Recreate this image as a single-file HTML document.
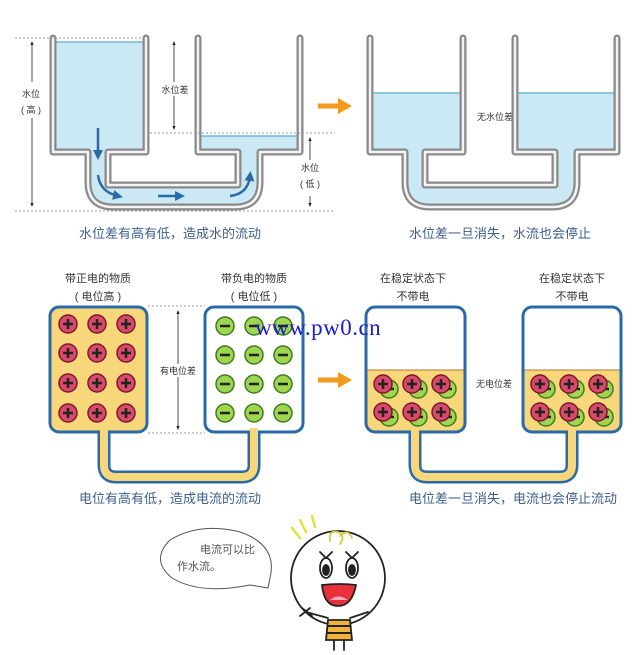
<!DOCTYPE html>
<html><head><meta charset="utf-8"><style>
body{margin:0;background:#fff}
svg{display:block}
text{font-family:"Liberation Sans","Noto Sans CJK SC",sans-serif}
</style></head><body>
<svg width="640" height="655" viewBox="0 0 640 655" xmlns="http://www.w3.org/2000/svg">
<defs>
<marker id="ah" viewBox="0 0 10 10" refX="5" refY="5" markerWidth="5" markerHeight="6" orient="auto-start-reverse"><path d="M0,1 L10,5 L0,9 z" fill="#222"/></marker>
<marker id="bh" viewBox="0 0 10 10" refX="5" refY="5" markerWidth="4" markerHeight="4" orient="auto"><path d="M0,0 L10,5 L0,10 z" fill="#2a6aa8"/></marker>
<g id="vessel">
 <path d="M146,38 V152 H108 V185 H238 V152 H198 V38" fill="none" stroke="#8a8a8a" stroke-width="7" stroke-linejoin="round" stroke-linecap="round"/>
 <path d="M53,38 V152 H88 V182 Q88,207 113,207 H235 Q260,207 260,182 V152 H300 V38" fill="none" stroke="#8a8a8a" stroke-width="7" stroke-linejoin="round" stroke-linecap="round"/>
 <path d="M146,38 V152 H108 V185 H238 V152 H198 V38" fill="none" stroke="#f4f4f4" stroke-width="2.5" stroke-linejoin="round" stroke-linecap="round"/>
 <path d="M53,38 V152 H88 V182 Q88,207 113,207 H235 Q260,207 260,182 V152 H300 V38" fill="none" stroke="#f4f4f4" stroke-width="2.5" stroke-linejoin="round" stroke-linecap="round"/>
</g>
<g id="plus"><circle r="9" fill="#d84a6a" stroke="#7a1830" stroke-width="1.5"/><path d="M-5,0H5M0,-5V5" stroke="#222" stroke-width="2.5"/></g>
<g id="minus"><circle r="9" fill="#9ed650" stroke="#3f7a20" stroke-width="1.5"/><path d="M-5,0H5" stroke="#222" stroke-width="2.5"/></g>
<g id="pair"><g transform="translate(6,5)"><use href="#minus"/></g><use href="#plus"/></g>
</defs>

<path d="M53,42 H146 V152 H108 V185 H238 V152 H198 V136 H300 V152 H260 V182 Q260,207 235,207 H113 Q88,207 88,182 V152 H53 Z" fill="#cbe9f5"/>
<line x1="53" y1="42" x2="146" y2="42" stroke="#6fb7d4" stroke-width="1.5"/>
<line x1="198" y1="136" x2="300" y2="136" stroke="#6fb7d4" stroke-width="1.5"/>
<use href="#vessel"/>
<path d="M98,128 V155" stroke="#2a6aa8" stroke-width="2.5" marker-end="url(#bh)"/>
<path d="M98,175 Q100,192 118,196" fill="none" stroke="#2a6aa8" stroke-width="2.5" marker-end="url(#bh)"/>
<path d="M158,196 H180" stroke="#2a6aa8" stroke-width="2.5" marker-end="url(#bh)"/>
<path d="M230,196 Q248,194 250,176" fill="none" stroke="#2a6aa8" stroke-width="2.5" marker-end="url(#bh)"/>
<g stroke="#999" stroke-dasharray="2,2" stroke-width="1">
<line x1="15" y1="38" x2="150" y2="38"/><line x1="150" y1="133" x2="335" y2="133"/><line x1="15" y1="211" x2="335" y2="211"/>
</g>
<g stroke="#222" stroke-width="0.8" fill="none">
<line x1="32" y1="43" x2="32" y2="205" marker-start="url(#ah)" marker-end="url(#ah)"/>
<line x1="174" y1="43" x2="174" y2="128" marker-start="url(#ah)" marker-end="url(#ah)"/>
<line x1="310" y1="139" x2="310" y2="205" marker-start="url(#ah)" marker-end="url(#ah)"/>
</g>
<rect x="20" y="82" width="24" height="36" fill="#fff"/>
<text x="31" y="97" font-size="9" text-anchor="middle" fill="#333">水位</text>
<text x="31" y="113" font-size="9" text-anchor="middle" fill="#333">( 高 )</text>
<rect x="160" y="82" width="30" height="14" fill="#fff"/>
<text x="175" y="93" font-size="9" text-anchor="middle" fill="#333">水位差</text>
<rect x="298" y="160" width="24" height="36" fill="#fff"/>
<text x="310" y="171" font-size="9" text-anchor="middle" fill="#333">水位</text>
<text x="310" y="187" font-size="9" text-anchor="middle" fill="#333">( 低 )</text>
<text x="170" y="238" font-size="13" text-anchor="middle" fill="#3b5f8c">水位差有高有低，造成水的流动</text>

<path d="M318,106 H340" stroke="#f39a1e" stroke-width="5"/><path d="M338,98 L352,106 L338,114 Z" fill="#f39a1e"/>
<path d="M318,380 H340" stroke="#f39a1e" stroke-width="5"/><path d="M338,372 L352,380 L338,388 Z" fill="#f39a1e"/>

<g transform="translate(317,0)">
<path d="M53,93 H146 V152 H108 V185 H238 V152 H198 V93 H300 V152 H260 V182 Q260,207 235,207 H113 Q88,207 88,182 V152 H53 Z" fill="#cbe9f5"/>
<line x1="53" y1="93" x2="146" y2="93" stroke="#6fb7d4" stroke-width="1.5"/>
<line x1="198" y1="93" x2="300" y2="93" stroke="#6fb7d4" stroke-width="1.5"/>
<use href="#vessel"/>
<text x="178" y="120" font-size="9" text-anchor="middle" fill="#333">无水位差</text>
</g>
<text x="500" y="238" font-size="13" text-anchor="middle" fill="#3b5f8c">水位差一旦消失，水流也会停止</text>

<g fill="none" stroke-linejoin="round">
<path d="M104,430 V465 Q104,477 116,477 H242 Q254,477 254,465 V430" stroke="#2a6aa8" stroke-width="13"/>
<path d="M104,428 V465 Q104,477 116,477 H242 Q254,477 254,465 V428" stroke="#f8d77a" stroke-width="8"/>
</g>
<rect x="50" y="307" width="97" height="125" rx="9" fill="#f8d77a" stroke="#2a6aa8" stroke-width="3"/>
<rect x="205" y="307" width="98" height="125" rx="9" fill="#fff" stroke="#2a6aa8" stroke-width="3"/>
<rect x="100" y="428" width="8" height="6" fill="#f8d77a"/><rect x="250" y="428" width="8" height="6" fill="#f8d77a"/>
<g>
<use href="#plus" x="68" y="324"/><use href="#plus" x="97" y="324"/><use href="#plus" x="126" y="324"/>
<use href="#plus" x="68" y="353"/><use href="#plus" x="97" y="353"/><use href="#plus" x="126" y="353"/>
<use href="#plus" x="68" y="383"/><use href="#plus" x="97" y="383"/><use href="#plus" x="126" y="383"/>
<use href="#plus" x="68" y="413"/><use href="#plus" x="97" y="413"/><use href="#plus" x="126" y="413"/>
<use href="#minus" x="225" y="326"/><use href="#minus" x="254" y="326"/><use href="#minus" x="283" y="326"/>
<use href="#minus" x="225" y="355"/><use href="#minus" x="254" y="355"/><use href="#minus" x="283" y="355"/>
<use href="#minus" x="225" y="384"/><use href="#minus" x="254" y="384"/><use href="#minus" x="283" y="384"/>
<use href="#minus" x="225" y="413"/><use href="#minus" x="254" y="413"/><use href="#minus" x="283" y="413"/>
</g>
<g stroke="#999" stroke-dasharray="2,2" stroke-width="1"><line x1="148" y1="306" x2="205" y2="306"/><line x1="148" y1="433" x2="205" y2="433"/></g>
<line x1="178" y1="312" x2="178" y2="428" stroke="#222" stroke-width="0.8" marker-start="url(#ah)" marker-end="url(#ah)"/>
<rect x="158" y="364" width="40" height="13" fill="#fff"/>
<text x="178" y="374" font-size="9" text-anchor="middle" fill="#333">有电位差</text>
<text x="98" y="282" font-size="11" text-anchor="middle" fill="#333">带正电的物质</text>
<text x="98" y="300" font-size="11" text-anchor="middle" fill="#333">( 电位高 )</text>
<text x="254" y="282" font-size="11" text-anchor="middle" fill="#333">带负电的物质</text>
<text x="254" y="300" font-size="11" text-anchor="middle" fill="#333">( 电位低 )</text>
<text x="170" y="503" font-size="13" text-anchor="middle" fill="#3b5f8c">电位有高有低，造成电流的流动</text>

<g fill="none" stroke-linejoin="round">
<path d="M415,430 V465 Q415,477 427,477 H560 Q572,477 572,465 V430" stroke="#2a6aa8" stroke-width="13"/>
<path d="M415,428 V465 Q415,477 427,477 H560 Q572,477 572,465 V428" stroke="#f8d77a" stroke-width="8"/>
</g>
<rect x="366" y="307" width="99" height="125" rx="9" fill="#fff"/>
<path d="M366,370 H465 V423 Q465,432 456,432 H375 Q366,432 366,423 Z" fill="#f8d77a"/>
<line x1="366" y1="370" x2="465" y2="370" stroke="#b07a30" stroke-width="1"/>
<rect x="366" y="307" width="99" height="125" rx="9" fill="none" stroke="#2a6aa8" stroke-width="3"/>
<rect x="523" y="307" width="98" height="125" rx="9" fill="#fff"/>
<path d="M523,370 H621 V423 Q621,432 612,432 H532 Q523,432 523,423 Z" fill="#f8d77a"/>
<line x1="523" y1="370" x2="621" y2="370" stroke="#b07a30" stroke-width="1"/>
<rect x="523" y="307" width="98" height="125" rx="9" fill="none" stroke="#2a6aa8" stroke-width="3"/>
<rect x="411" y="428" width="8" height="6" fill="#f8d77a"/><rect x="568" y="428" width="8" height="6" fill="#f8d77a"/>
<use href="#pair" x="383" y="384"/><use href="#pair" x="412" y="384"/><use href="#pair" x="441" y="384"/>
<use href="#pair" x="383" y="412"/><use href="#pair" x="412" y="412"/><use href="#pair" x="441" y="412"/>
<use href="#pair" x="540" y="384"/><use href="#pair" x="569" y="384"/><use href="#pair" x="598" y="384"/>
<use href="#pair" x="540" y="412"/><use href="#pair" x="569" y="412"/><use href="#pair" x="598" y="412"/>
<text x="494" y="387" font-size="9" text-anchor="middle" fill="#333">无电位差</text>
<text x="413" y="282" font-size="11" text-anchor="middle" fill="#333">在稳定状态下</text>
<text x="413" y="300" font-size="11" text-anchor="middle" fill="#333">不带电</text>
<text x="572" y="282" font-size="11" text-anchor="middle" fill="#333">在稳定状态下</text>
<text x="572" y="300" font-size="11" text-anchor="middle" fill="#333">不带电</text>
<text x="513" y="503" font-size="13" text-anchor="middle" fill="#3b5f8c">电位差一旦消失，电流也会停止流动</text>

<text x="255" y="335" font-size="23" fill="#1a1ad0" style="font-family:'Liberation Serif',serif;letter-spacing:0.5px">www.pw0.cn</text>

<path d="M270,578 Q278,545 240,532 Q200,522 170,540 Q150,560 172,578 Q200,595 250,585 L268,588 Z" fill="#fff" stroke="#555" stroke-width="1"/>
<text x="200" y="553" font-size="11" fill="#555">电流可以比</text>
<text x="177" y="570" font-size="11" fill="#555">作水流。</text>
<g stroke="#222" stroke-width="1.8" fill="none" stroke-linecap="round">
<path d="M292,528 L300,538 M300,520 L306,532 M312,516 L315,527" stroke="#e6e03a" stroke-width="2.5"/>
<circle cx="338" cy="578" r="47" fill="#fff"/>
<path d="M330,541 Q328,530 338,532 Q346,536 340,544 M340,536 Q348,528 352,538" stroke="#d0c84a"/>
<ellipse cx="326" cy="568" rx="6" ry="10"/><ellipse cx="352" cy="568" rx="6" ry="10"/>
<ellipse cx="326" cy="570" rx="3" ry="5" fill="#222"/><ellipse cx="352" cy="570" rx="3" ry="5" fill="#222"/>
<path d="M320,552 L326,558 L332,552 M346,552 L352,558 L358,552"/>
<path d="M322,585 Q340,583 356,585 Q352,606 338,606 Q324,606 322,585 Z" fill="#e8303a"/>
<path d="M330,600 Q338,593 348,600" fill="#f3a8c0" stroke="none"/>
<path d="M328,620 H350 L352,640 H326 Z" fill="#f3b23a"/>
<path d="M328,626 H350 M327,633 H351" stroke="#222" stroke-width="2"/>
<path d="M328,618 L306,612 M350,618 L368,612"/>
<path d="M334,640 V650 M344,640 V650"/>
<path d="M302,608 L312,616 M300,616 L310,608"/>
</g>
</svg>
</body></html>
